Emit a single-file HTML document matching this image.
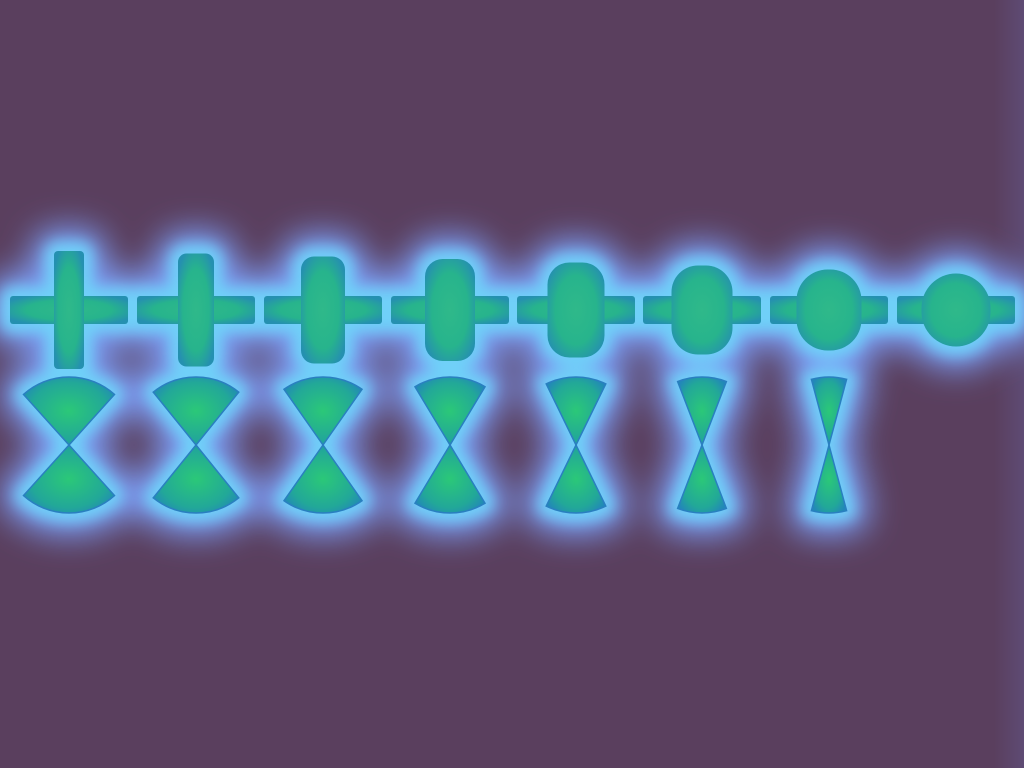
<!DOCTYPE html>
<html><head><meta charset="utf-8"><style>
html,body{margin:0;padding:0;background:#5a3f5e;width:1024px;height:768px;overflow:hidden}
svg{display:block}
</style></head><body>
<svg id="chart" width="1024" height="768" viewBox="0 0 1024 768">
<defs>
<filter id="glow" x="-60%" y="-60%" width="220%" height="220%"><feGaussianBlur stdDeviation="16"/></filter>
<filter id="glow2" x="-50%" y="-50%" width="200%" height="200%"><feGaussianBlur stdDeviation="7"/></filter>
<linearGradient id="edge" x1="0" x2="1" y1="0" y2="0">
<stop offset="0" stop-color="#5a3f5e"/><stop offset="1" stop-color="#5e4b74"/>
</linearGradient>
<radialGradient id="fillg" cx="0.5" cy="0.5" r="0.6">
<stop offset="0" stop-color="#2fb98a"/><stop offset="0.6" stop-color="#27b48c"/><stop offset="1" stop-color="#2590b0"/>
</radialGradient>
<radialGradient id="fillb" cx="0.5" cy="0.5" r="0.6">
<stop offset="0" stop-color="#2bc878"/><stop offset="0.7" stop-color="#22a898"/><stop offset="1" stop-color="#2288b8"/>
</radialGradient>
</defs>
<rect width="1024" height="768" fill="#5a3f5e"/>
<rect x="994" y="0" width="30" height="768" fill="url(#edge)"/>
<g id="glowA" filter="url(#glow)" fill="#7b9cf5" stroke="#7b9cf5" stroke-width="46" stroke-linejoin="round"></g>
<g id="glowB" filter="url(#glow2)" fill="#70d0f8" stroke="#70d0f8" stroke-width="18" stroke-linejoin="round"></g>
<g id="shapes"></g>
</svg>
<script>
const centers = [69, 196, 323, 450, 576, 702, 829, 956];
const vertWidths = [30, 36, 44, 50, 57, 61, 65, 69];
const vertHeights = [118, 113, 107, 102, 95, 89, 81, 73];
const bowAngles = [42, 39, 35, 31, 26, 21, 15];

const NS = 'http://www.w3.org/2000/svg';
const rowY = 310, barHalf = 59, barH = 28, bowY = 445, bowR = 68;
function mk(tag, attrs){const e=document.createElementNS(NS,tag);for(const k in attrs)e.setAttribute(k,attrs[k]);return e;}
function sector(cx, cy, r, half, up){
  const a = half*Math.PI/180, s = up?-1:1;
  const x1 = cx - r*Math.sin(a), x2 = cx + r*Math.sin(a), y = cy + s*r*Math.cos(a);
  return `M${cx},${cy} L${x1},${y} A${r},${r} 0 0 ${up?1:0} ${x2},${y} Z`;
}
const layers = ['glowA','glowB','shapes'].map(id=>document.getElementById(id));
layers.forEach((g, li) => {
  centers.forEach((cx, i) => {
    const fill = li===2 ? 'url(#fillg)' : null;
    const bar = mk('rect', {x: cx-barHalf, y: rowY-barH/2, width: barHalf*2, height: barH, rx: 3});
    
    
    if (fill) bar.setAttribute('fill', fill);
    g.appendChild(bar);
    const w = vertWidths[i], h = vertHeights[i];
    const v = mk('rect', {x: cx-w/2, y: rowY-h/2, width: w, height: h, rx: Math.min(w/2, 4 + i*4.5)});
    
    
    if (fill) v.setAttribute('fill', fill);
    g.appendChild(v);
  });
  bowAngles.forEach((ang, i) => {
    const cx = centers[i];
    [true, false].forEach(up => {
      const p = mk('path', {d: sector(cx, bowY, bowR, ang, up)});
      
      
      if (li===2) { p.setAttribute('fill', 'url(#fillb)'); p.setAttribute('stroke', '#2a7fc0'); p.setAttribute('stroke-width', '1.5'); }
      g.appendChild(p);
    });
  });
});
</script>
</body></html>
